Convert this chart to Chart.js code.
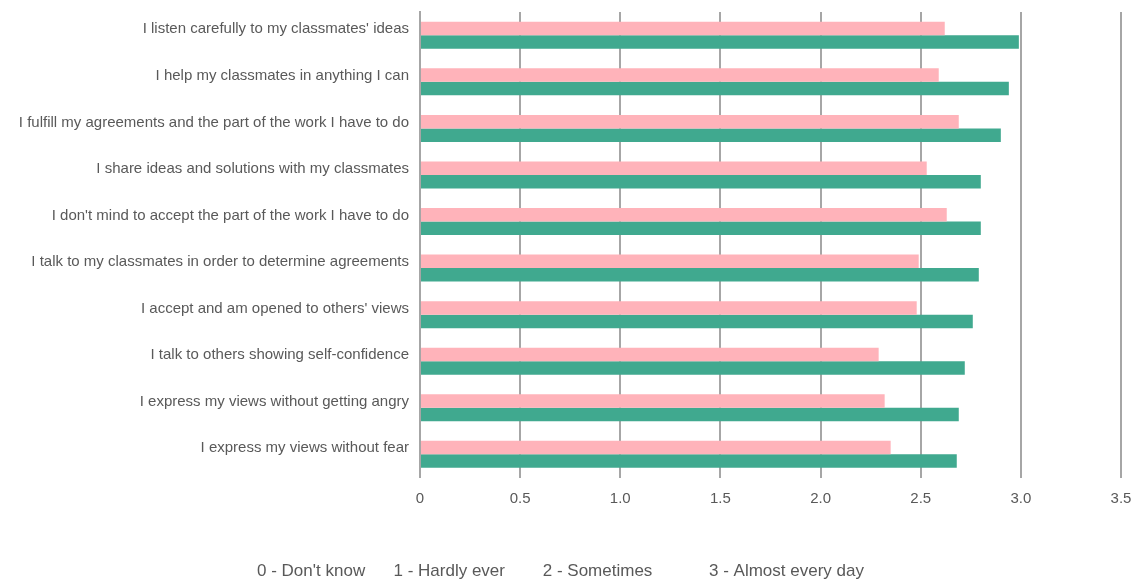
<!DOCTYPE html>
<html>
<head>
<meta charset="utf-8">
<script src="https://cdn.jsdelivr.net/npm/chart.js@4"></script>
<style>
  html, body { margin: 0; padding: 0; background: #fff; }
  #wrap { width: 1140px; height: 582px; }
</style>
</head>
<body>
<div id="wrap"><canvas id="chart"></canvas></div>
<script>
const categories = [
    "I listen carefully to my classmates' ideas",
    "I help my classmates in anything I can",
    "I fulfill my agreements and the part of the work I have to do",
    "I share ideas and solutions with my classmates",
    "I don't mind to accept the part of the work I have to do",
    "I talk to my classmates in order to determine agreements",
    "I accept and am opened to others' views",
    "I talk to others showing self-confidence",
    "I express my views without getting angry",
    "I express my views without fear"
];
const seriesPink = [2.62, 2.59, 2.69, 2.53, 2.63, 2.49, 2.48, 2.29, 2.32, 2.35];
const seriesGreen = [2.99, 2.94, 2.90, 2.80, 2.80, 2.79, 2.76, 2.72, 2.69, 2.68];
const scaleLabels = ["0 - Don't know", "1 - Hardly ever", "2 - Sometimes", "3 - Almost every day"];
const labelGaps = ["      ", "        ", "            "];

let footText = scaleLabels[0];
for (let i = 1; i < scaleLabels.length; i++) {
    footText += labelGaps[i - 1] + scaleLabels[i];
}

const textColor = "#595959";
const gridColor = "#a6a6a6";
const fontFamily = "'Liberation Sans', Arial, sans-serif";

const ctx = document.getElementById("chart").getContext("2d");
new Chart(ctx, {
    type: "bar",
    data: {
        labels: categories,
        datasets: [{
            label: "Series 1",
            data: seriesPink,
            backgroundColor: "#ffb3ba",
            borderWidth: 0
        }, {
            label: "Series 2",
            data: seriesGreen,
            backgroundColor: "#40a98f",
            borderWidth: 0
        }]
    },
    options: {
        indexAxis: "y",
        responsive: true,
        maintainAspectRatio: false,
        animation: false,
        categoryPercentage: 0.58,
        barPercentage: 1.0,
        layout: {
            padding: { top: 12, right: 19, bottom: 0, left: 0 }
        },
        plugins: {
            legend: { display: false },
            tooltip: { enabled: false },
            title: {
                display: true,
                position: "bottom",
                text: footText,
                color: textColor,
                font: { family: fontFamily, size: 17, weight: "normal" },
                padding: { top: 42, bottom: 0 }
            }
        },
        scales: {
            x: {
                min: 0,
                max: 3.5,
                ticks: {
                    stepSize: 0.5,
                    color: textColor,
                    padding: 12,
                    font: { family: fontFamily, size: 15 },
                    callback: function(v) { return v === 0 ? "0" : v.toFixed(1); }
                },
                grid: {
                    color: gridColor,
                    lineWidth: 2,
                    drawTicks: false
                },
                border: { display: false },
                afterFit: function(scale) {
                    scale.paddingRight = 0;
                    scale.paddingLeft = 0;
                }
            },
            y: {
                ticks: {
                    color: textColor,
                    padding: 11,
                    labelOffset: -6,
                    font: { family: fontFamily, size: 15 }
                },
                grid: { display: false, drawTicks: false },
                border: { display: true, color: gridColor, width: 2 },
                afterFit: function(scale) {
                    scale.width = 420;
                    scale.paddingTop = 0;
                    scale.paddingBottom = 0;
                }
            }
        }
    }
});
</script>
</body>
</html>
